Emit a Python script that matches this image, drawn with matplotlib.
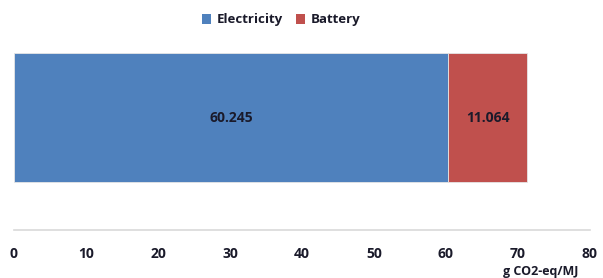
import matplotlib
matplotlib.use('Agg')
import matplotlib.pyplot as plt
from matplotlib.patches import Patch

plt.rcParams['font.family'] = ['Open Sans', 'DejaVu Sans']

labels = ['Electricity', 'Battery']
values = [60.245, 11.064]
colors = ['#4F81BD', '#C0504D']
xticks = [0, 10, 20, 30, 40, 50, 60, 70, 80]

fig = plt.figure(figsize=(6.03, 2.78), dpi=100)
ax = fig.add_axes([0.0232, 0.1727, 0.9552, 0.6833])

left = 0
for lab, v, c in zip(labels, values, colors):
    ax.barh(0, v, left=left, height=1, color=c, edgecolor='#e6e6e6', linewidth=0.6)
    ax.text(left + v / 2, 0, '%.3f' % v, ha='center', va='center',
            fontsize=10, fontweight='bold', color='#1a1a2a')
    left += v

ax.set_xlim(0, 80)
ax.set_ylim(-0.872, 0.601)
ax.set_xticks(xticks)
ax.set_xticklabels([str(t) for t in xticks], fontsize=10, fontweight='bold')
ax.tick_params(axis='x', length=0, pad=12, labelcolor='#1a1a2a')
ax.set_yticks([])
for s in ['top', 'left', 'right']:
    ax.spines[s].set_visible(False)
ax.spines['bottom'].set_color('#d9d9d9')
ax.spines['bottom'].set_linewidth(1.2)

fig.text(541 / 603, 1 - 272 / 278, 'g CO2-eq/MJ', ha='center', va='center',
         fontsize=9, fontweight='bold', color='#1a1a2a')

handles = [Patch(facecolor=c, label=l) for l, c in zip(labels, colors)]
fig.legend(handles=handles, loc='center', bbox_to_anchor=(281 / 603, 1 - 20 / 278),
           ncol=2, frameon=False, prop={'size': 9.5, 'weight': 'bold'},
           labelcolor='#1a1a2a',
           handlelength=0.7, handleheight=0.7, handletextpad=0.4, columnspacing=1.0)

fig.savefig('out.png', dpi=100)
